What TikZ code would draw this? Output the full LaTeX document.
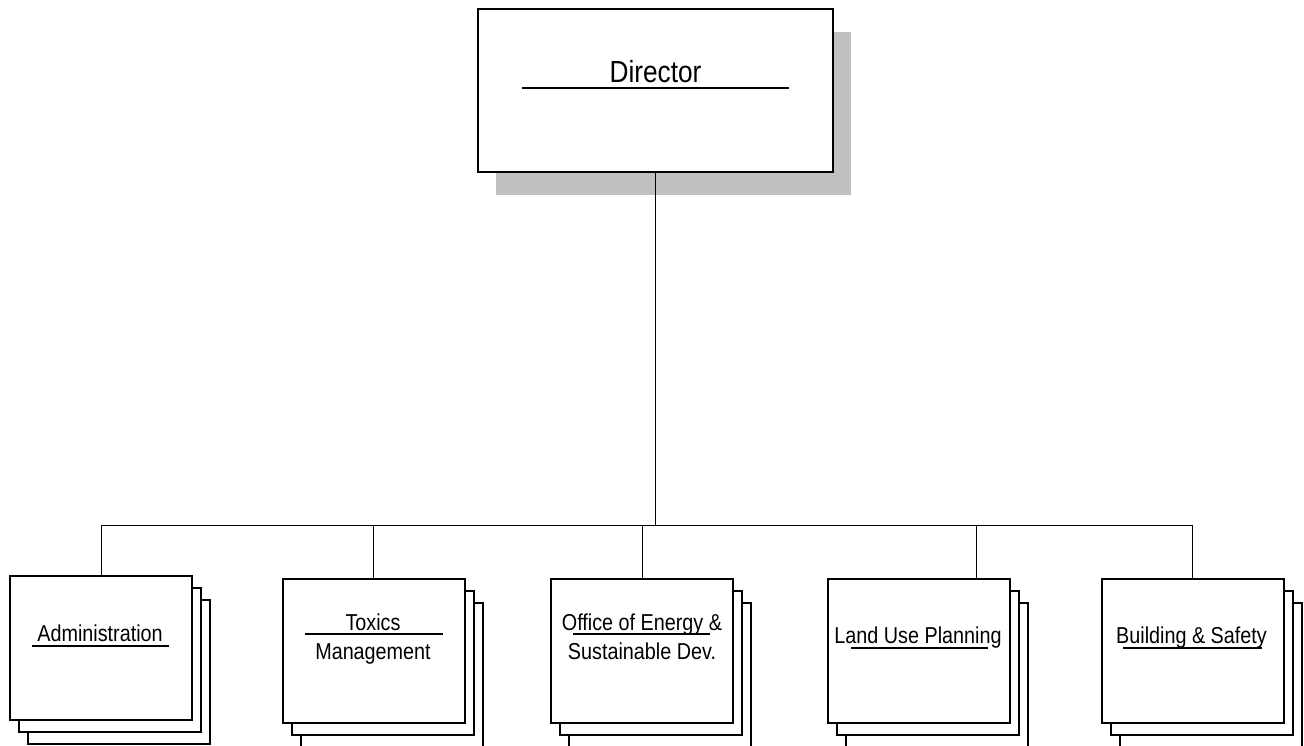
\documentclass[tikz,border=0pt]{standalone}
\usepackage{fontspec}
\setmainfont{Liberation Sans}[FakeStretch=0.86]
\definecolor{shadowgray}{HTML}{C0C0C0}
\begin{document}
\begin{tikzpicture}[x=1pt,y=-1pt,
  dirbox/.style={draw=black,line width=1.5pt,fill=white,minimum width=355pt,minimum height=163pt,inner sep=0pt},
  shadowbox/.style={fill=shadowgray,draw=none,minimum width=355pt,minimum height=163pt,inner sep=0pt},
  unitbox/.style={draw=black,line width=1.5pt,fill=white,minimum width=182pt,minimum height=144pt,inner sep=0pt},
  conn/.style={draw=black,line width=0.8pt},
  uline/.style={draw=black,line width=1.3pt},
  lbl/.style={font=\fontsize{23}{27}\selectfont,anchor=base,inner sep=0pt},
  dirlbl/.style={font=\fontsize{30.5}{35}\selectfont,anchor=base,inner sep=0pt}]
\useasboundingbox (0,0) rectangle (1304,745);
% Director
\node[shadowbox] (dshadow) at (673.5,113.5) {};
\node[dirbox] (director) at (655.5,90.5) {};
\node[dirlbl] (dirtext) at (655.5,82) {Director};
\draw[uline] (522,88) -- (789,88);
% Unit boxes (stacked)
\foreach \n/\cx/\cy in {admin/101/648, toxics/374/651, energy/642/651, landuse/919/651, building/1193/651}{
  \node[unitbox] (\n3) at (\cx+18,\cy+24) {};
  \node[unitbox] (\n2) at (\cx+9,\cy+12) {};
  \node[unitbox] (\n) at (\cx,\cy) {};
}
% Labels
\node[lbl] (t1) at (100,641) {Administration};
\draw[uline] (32,646) -- (169,646);
\node[lbl] (t2a) at (373,630) {Toxics};
\node[lbl] (t2b) at (373,659) {Management};
\draw[uline] (305,634) -- (443,634);
\node[lbl] (t3a) at (642,630) {Office of Energy \&};
\node[lbl] (t3b) at (642,659) {Sustainable Dev.};
\draw[uline] (573,634) -- (710,634);
\node[lbl] (t4) at (918,643) {Land Use Planning};
\draw[uline] (851,648) -- (988,648);
\node[lbl] (t5) at (1191.5,643) {Building \& Safety};
\draw[uline] (1123,648) -- (1262,648);
% Connectors
\coordinate (busA) at (101,525);
\coordinate (busB) at (373,525);
\coordinate (busC) at (642,525);
\coordinate (busD) at (976,525);
\coordinate (busE) at (1192,525);
\coordinate (busM) at (655.5,525);
\draw[conn] (director.south) -- (busM);
\draw[conn] (busA) -- (busE);
\draw[conn] (busA) -- (busA |- admin.north);
\draw[conn] (busB) -- (busB |- toxics.north);
\draw[conn] (busC) -- (busC |- energy.north);
\draw[conn] (busD) -- (busD |- landuse.north);
\draw[conn] (busE) -- (busE |- building.north);
\end{tikzpicture}
\end{document}
